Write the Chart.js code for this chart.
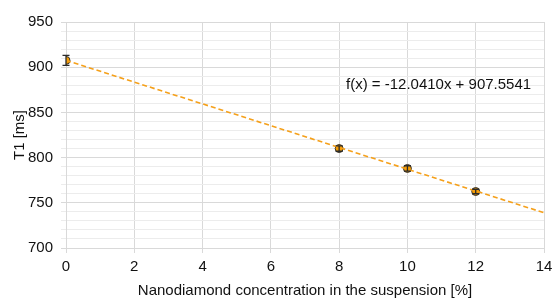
<!DOCTYPE html>
<html>
<head>
<meta charset="utf-8">
<script src="https://cdn.jsdelivr.net/npm/chart.js@4.4.1/dist/chart.umd.min.js"></script>
<style>
  html, body { margin: 0; padding: 0; background: #fff; }
</style>
</head>
<body>
<canvas id="chart" width="554" height="304"></canvas>
<script>
// Concentração de nanodiamante (%) e T1 medido (ms)
const concentration = [0, 8, 10, 12];
const t1Values = [907.5, 810, 788, 762.5];
const t1Errors = [5.5, 3, 3, 2.5];

// Linha de tendência lida da equação no gráfico
const trendSlope = -12.0410;
const trendIntercept = 907.5541;
const trendX = [0, 14];
const trendLabel = 'f(x) = -12.0410x + 907.5541';

const xTicks = [0, 2, 4, 6, 8, 10, 12, 14];
const yTicks = [700, 750, 800, 850, 900, 950];

const points = concentration.map((x, i) => ({ x, y: t1Values[i] }));
const trendPoints = trendX.map(x => ({ x, y: trendSlope * x + trendIntercept }));

const FONT = '"Liberation Sans", Arial, sans-serif';

// Barras de erro e texto da equação
const errorBars = {
  id: 'errorBars',
  afterDatasetsDraw(chart) {
    const { ctx, scales: { x, y } } = chart;
    ctx.save();
    ctx.strokeStyle = '#2b2b2b';
    ctx.lineWidth = 1.3;
    concentration.forEach((c, i) => {
      const px = x.getPixelForValue(c);
      const top = y.getPixelForValue(t1Values[i] + t1Errors[i]);
      const bot = y.getPixelForValue(t1Values[i] - t1Errors[i]);
      ctx.beginPath();
      ctx.moveTo(px, top); ctx.lineTo(px, bot);
      ctx.moveTo(px - 3.5, top); ctx.lineTo(px + 3.5, top);
      ctx.moveTo(px - 3.5, bot); ctx.lineTo(px + 3.5, bot);
      ctx.stroke();
    });
    ctx.restore();

    ctx.save();
    ctx.fillStyle = '#111';
    ctx.font = '15px ' + FONT;
    ctx.textBaseline = 'middle';
    ctx.fillText(trendLabel, x.getPixelForValue(8.2), y.getPixelForValue(880.8));
    ctx.restore();
  }
};

new Chart(document.getElementById('chart'), {
  type: 'scatter',
  data: {
    datasets: [
      {
        type: 'line',
        data: trendPoints,
        borderColor: '#f5a01a',
        borderWidth: 1.6,
        borderDash: [5, 3],
        pointRadius: 0,
        fill: false
      },
      {
        data: points,
        backgroundColor: '#f59c00',
        borderColor: '#333',
        borderWidth: 1,
        pointRadius: 4
      }
    ]
  },
  options: {
    responsive: false,
    animation: false,
    layout: { padding: { left: 0, right: 10, top: 22, bottom: 0 } },
    plugins: { legend: { display: false }, tooltip: { enabled: false } },
    scales: {
      x: {
        type: 'linear',
        min: 0, max: 14,
        afterBuildTicks: axis => { axis.ticks = xTicks.map(v => ({ value: v })); },
        afterFit: axis => { axis.height = 56; axis.paddingLeft = 0; axis.paddingRight = 0; },
        ticks: { color: '#111', font: { size: 15, family: FONT }, padding: 5 },
        grid: { color: '#d9d9d9', tickLength: 5 },
        border: { color: '#d9d9d9' },
        title: {
          display: true,
          text: 'Nanodiamond concentration in the suspension [%]',
          color: '#111',
          font: { size: 15, family: FONT },
          padding: { top: 0, bottom: 4 }
        }
      },
      y: {
        min: 700, max: 950,
        afterFit: axis => { axis.width = 66; axis.paddingTop = 0; axis.paddingBottom = 0; },
        ticks: {
          stepSize: 10,
          autoSkip: false,
          padding: 8,
          color: '#111',
          font: { size: 15, family: FONT },
          callback: v => (yTicks.includes(v) ? v : '')
        },
        grid: {
          color: c => (yTicks.includes(c.tick.value) ? '#d9d9d9' : '#ececec'),
          tickLength: 5
        },
        border: { color: '#d9d9d9' },
        title: {
          display: true,
          text: 'T1 [ms]',
          color: '#111',
          font: { size: 15, family: FONT },
          padding: { top: 11, bottom: 0 }
        }
      }
    }
  },
  plugins: [errorBars]
});
</script>
</body>
</html>
